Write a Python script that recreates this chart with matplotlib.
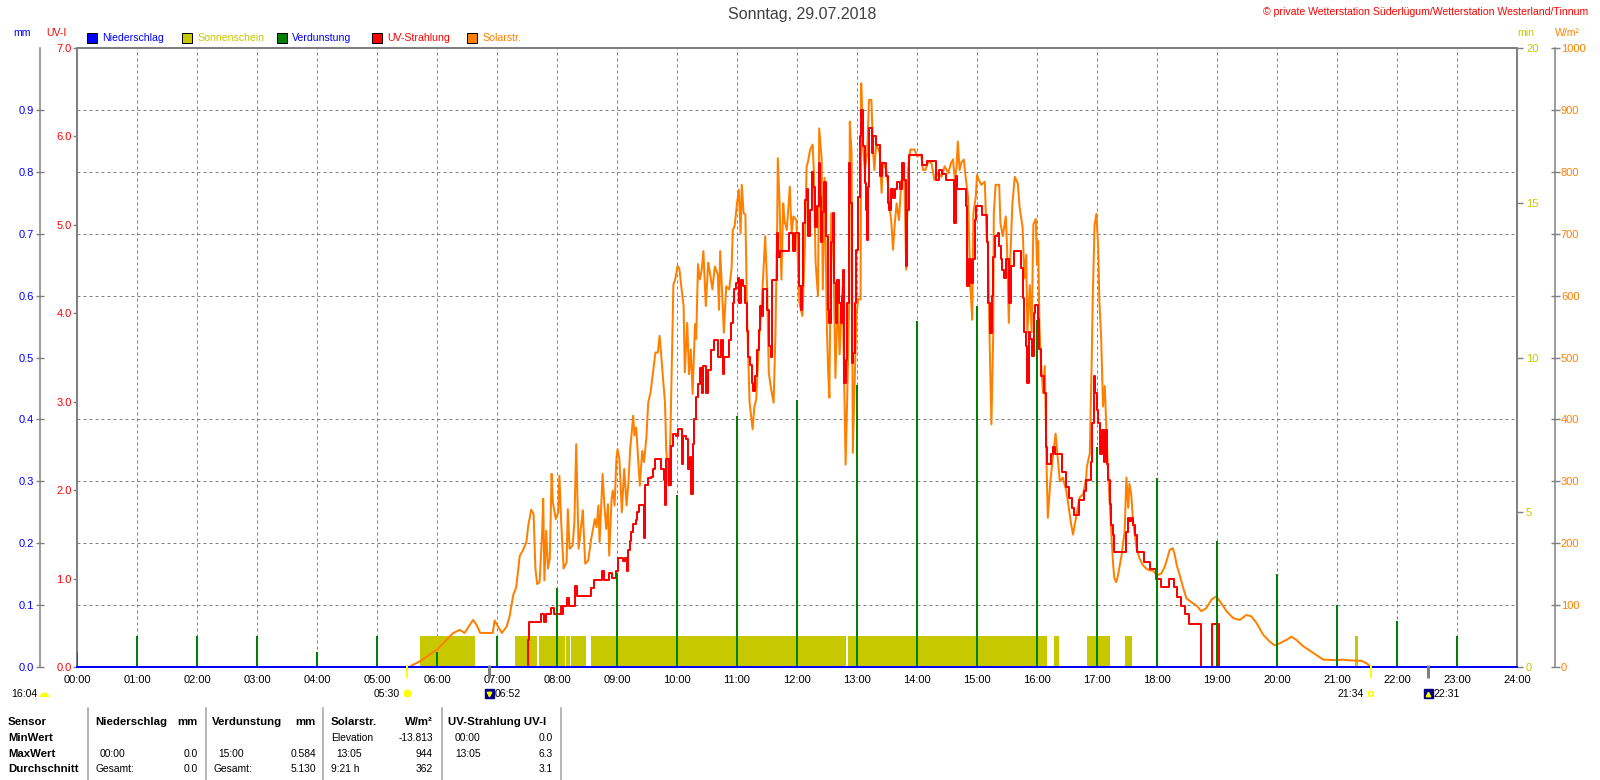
import numpy as np
import matplotlib
matplotlib.use("Agg")
import matplotlib.pyplot as plt
import matplotlib.patches as mpatches
from matplotlib.transforms import blended_transform_factory

plt.rcParams['font.family'] = ['Liberation Sans', 'DejaVu Sans']

# ---------------- data ----------------
hours = list(range(25))

# Verdunstung (mm) per hour
evap_h = list(range(24))
evap_mm = [0.025, 0.05, 0.05, 0.05, 0.025, 0.05, 0.025, 0.05, 0.127, 0.152,
           0.278, 0.405, 0.432, 0.456, 0.559, 0.584, 0.56, 0.355, 0.305, 0.203,
           0.15, 0.1, 0.074, 0.05]

# Niederschlag (mm), nothing fell
rain_t = [0, 24]
rain_mm = [0.0, 0.0]

# Sonnenschein: minutes of sunshine, periods of full sun (1 min per minute)
sun_start = ["05:43", "07:18", "07:42", "08:09", "08:14", "08:34", "12:51",
             "16:17", "16:50", "17:28", "21:18"]
sun_end = ["06:38", "07:40", "08:08", "08:13", "08:29", "12:49", "16:10",
           "16:22", "17:13", "17:35", "21:21"]
sun_min = [1] * len(sun_start)

# Solarstrahlung (W/m2)
sol_t = [5.55, 5.57, 5.71, 6.0, 6.27, 6.38, 6.46, 6.6, 6.66, 6.72, 6.93, 6.96,
         7.08, 7.16, 7.21, 7.27, 7.32, 7.38, 7.43, 7.49, 7.52, 7.57, 7.61, 7.64,
         7.67, 7.71, 7.75, 7.77, 7.79, 7.82, 7.85, 7.88, 7.91, 7.93, 7.98, 8.02,
         8.04, 8.07, 8.11, 8.16, 8.18, 8.21, 8.26, 8.29, 8.32, 8.36, 8.41, 8.43,
         8.47, 8.52, 8.57, 8.63, 8.66, 8.69, 8.71, 8.76, 8.79, 8.82, 8.85, 8.87,
         8.91, 8.93, 8.96, 8.99, 9.01, 9.04, 9.08, 9.12, 9.16, 9.19, 9.22, 9.24,
         9.27, 9.29, 9.32, 9.35, 9.38, 9.42, 9.45, 9.49, 9.52, 9.56, 9.60, 9.64,
         9.68, 9.71, 9.74, 9.77, 9.80, 9.82, 9.86, 9.89, 9.92, 9.94, 9.97, 10.01,
         10.04, 10.07, 10.11, 10.13, 10.17, 10.20, 10.23, 10.26, 10.30, 10.32,
         10.35, 10.38, 10.41, 10.44, 10.48, 10.52, 10.54, 10.59, 10.63, 10.68,
         10.7, 10.72, 10.76, 10.78, 10.82, 10.87, 10.91, 10.93, 10.96, 11.0,
         11.03, 11.06, 11.08, 11.11, 11.14, 11.17, 11.21, 11.26, 11.29, 11.32,
         11.37, 11.41, 11.43, 11.47, 11.5, 11.53, 11.57, 11.61, 11.64, 11.67,
         11.68, 11.71, 11.74, 11.77, 11.79, 11.83, 11.88, 11.91, 11.94, 11.99,
         12.04, 12.09, 12.13, 12.16, 12.18, 12.22, 12.26, 12.28, 12.31, 12.35,
         12.37, 12.41, 12.43, 12.46, 12.5, 12.52, 12.54, 12.57, 12.61, 12.64,
         12.68, 12.71, 12.76, 12.78, 12.81, 12.83, 12.87, 12.88, 12.91, 12.93,
         12.96, 12.99, 13.02, 13.06, 13.07, 13.1, 13.13, 13.17, 13.2, 13.24,
         13.27, 13.29, 13.32, 13.38, 13.41, 13.43, 13.49, 13.52, 13.54, 13.57,
         13.6, 13.63, 13.66, 13.7, 13.74, 13.79, 13.82, 13.85, 13.89, 13.96,
         14.0, 14.07, 14.1, 14.14, 14.18, 14.24, 14.29, 14.35, 14.41, 14.46,
         14.52, 14.57, 14.6, 14.63, 14.66, 14.68, 14.71, 14.74, 14.78, 14.81,
         14.85, 14.89, 14.92, 14.94, 14.98, 15.0, 15.03, 15.07, 15.13, 15.16,
         15.18, 15.21, 15.24, 15.27, 15.28, 15.31, 15.37, 15.39, 15.43, 15.48,
         15.5, 15.53, 15.56, 15.59, 15.63, 15.68, 15.71, 15.76, 15.79, 15.82,
         15.84, 15.88, 15.91, 15.94, 15.98, 16.0, 16.02, 16.04, 16.07, 16.1,
         16.13, 16.16, 16.18, 16.22, 16.27, 16.31, 16.38, 16.43, 16.49, 16.53,
         16.57, 16.6, 16.63, 16.68, 16.71, 16.77, 16.82, 16.83, 16.88, 16.91,
         16.93, 16.96, 16.99, 17.02, 17.04, 17.07, 17.1, 17.13, 17.16, 17.18,
         17.21, 17.24, 17.27, 17.29, 17.32, 17.35, 17.41, 17.46, 17.49, 17.52,
         17.54, 17.57, 17.6, 17.66, 17.71, 17.77, 17.82, 17.88, 17.93, 18.0,
         18.07, 18.13, 18.17, 18.21, 18.26, 18.29, 18.33, 18.38, 18.43, 18.49,
         18.57, 18.66, 18.74, 18.82, 18.91, 18.99, 19.07, 19.16, 19.27, 19.38,
         19.49, 19.57, 19.66, 19.77, 19.88, 19.96, 20.04, 20.16, 20.24, 20.32,
         20.43, 20.54, 20.66, 20.77, 20.99, 21.1, 21.16, 21.41, 21.49, 21.57]
sol_w = [0, 2, 9, 28, 55, 60, 55, 76, 68, 55, 55, 75,
         55, 65, 82, 116, 129, 180, 188, 202, 228, 254, 247, 159,
         134, 137, 212, 272, 140, 220, 159, 175, 312, 266, 239, 250,
         309, 234, 159, 169, 255, 191, 196, 234, 360, 191, 234, 253,
         167, 172, 207, 239, 226, 261, 202, 312, 261, 223, 263, 180,
         272, 285, 261, 336, 352, 336, 250, 320, 261, 298, 352, 374,
         406, 374, 387, 339, 293, 349, 331, 371, 427, 444, 476, 508,
         508, 535, 500, 462, 427, 352, 293, 374, 519, 618, 626, 648,
         643, 616, 583, 476, 556, 473, 513, 441, 554, 530,
         651, 626, 640, 672, 583, 653, 642, 610, 647, 634,
         577, 672, 588, 540, 615, 610, 645, 706, 712, 749,
         771, 701, 779, 733, 731, 556, 427, 384, 421, 432,
         534, 583, 620, 696, 620, 475, 448, 427, 534, 717,
         822, 749, 626, 749, 722, 706, 776, 701, 728, 722,
         588, 567, 674, 809, 815, 836, 844, 803, 653, 599,
         870, 822, 610, 790, 540, 475, 435, 733, 653, 467,
         599, 505, 615, 502, 327, 405, 588, 881, 830, 346,
         459, 567, 594, 594, 943, 841, 803, 830, 916, 916,
         830, 803, 846, 830, 766, 815, 803, 776, 744, 722,
         674, 717, 749, 722, 787, 787, 642, 803, 836, 836,
         825, 828, 803, 803, 815, 815, 787, 798, 792, 809,
         798, 815, 820, 787, 809, 849, 803, 815, 820, 792,
         760, 615, 561, 733, 760, 795, 787, 779, 784, 696,
         685, 529, 392, 534, 733, 779, 779, 717, 696, 728,
         680, 556, 674, 749, 792, 781, 743, 710, 628, 666,
         541, 617, 541, 715, 724, 650, 688, 552, 486, 443,
         486, 323, 241, 296, 345, 377, 300, 306, 284, 257,
         230, 214, 230, 257, 274, 279, 306, 323, 345, 486,
         601, 715, 732, 677, 590, 530, 421, 454, 377, 323,
         268, 214, 164, 143, 137, 148, 181, 219, 306, 257,
         296, 279, 236, 192, 175, 164, 159, 156, 156, 148,
         151, 162, 175, 189, 192, 184, 164, 148, 130, 111,
         105, 99, 90, 95, 109, 114, 103, 90, 79, 76,
         84, 82, 71, 52, 41, 35, 38, 44, 49, 44,
         34, 27, 19, 12, 11, 12, 11, 10, 6, 0]

# UV-Strahlung (UV-I), value holds until the next time
uv_t = [7.51, 7.52, 7.54, 7.74, 7.78, 7.81, 7.9, 7.95, 8.06, 8.08, 8.1, 8.17, 8.2,
        8.3, 8.34, 8.56, 8.62, 8.75, 8.79, 8.86, 8.92, 8.98, 9.02, 9.1, 9.13,
        9.16, 9.18, 9.21, 9.24, 9.27, 9.31, 9.34, 9.37, 9.45, 9.47, 9.51, 9.56,
        9.6, 9.63, 9.74, 9.78, 9.8, 9.82, 9.86, 9.9, 9.93, 9.99, 10.02, 10.08,
        10.1, 10.15, 10.18, 10.21, 10.24, 10.26, 10.29, 10.32, 10.35, 10.38,
        10.41, 10.44, 10.48, 10.51, 10.56, 10.61, 10.69, 10.73, 10.76, 10.78,
        10.87, 10.9, 10.93, 10.95, 10.98, 11.01, 11.03, 11.06, 11.1, 11.13,
        11.16, 11.18, 11.21, 11.25, 11.27, 11.3, 11.33, 11.36, 11.38, 11.41,
        11.43, 11.5, 11.53, 11.56, 11.59, 11.66, 11.69, 11.71, 11.86, 11.93,
        11.96, 12.03, 12.06, 12.08, 12.1, 12.13, 12.16, 12.19, 12.21, 12.25,
        12.27, 12.3, 12.33, 12.36, 12.38, 12.4, 12.42, 12.45, 12.48, 12.51,
        12.53, 12.56, 12.6, 12.62, 12.65, 12.67, 12.7, 12.73, 12.75, 12.77,
        12.79, 12.81, 12.84, 12.87, 12.89, 12.91, 12.93, 12.96, 12.99, 13.02,
        13.05, 13.07, 13.1, 13.13, 13.15, 13.16, 13.18, 13.2, 13.25, 13.27,
        13.31, 13.38, 13.41, 13.48, 13.51, 13.53, 13.56, 13.6, 13.63, 13.67,
        13.71, 13.75, 13.78, 13.81, 13.84, 13.87, 14.09, 14.17, 14.31, 14.37,
        14.42, 14.48, 14.62, 14.65, 14.67, 14.81, 14.84, 14.87, 14.9, 14.93,
        14.97, 14.99, 15.09, 15.16, 15.19, 15.22, 15.25, 15.27, 15.3, 15.35,
        15.37, 15.4, 15.42, 15.45, 15.48, 15.53, 15.56, 15.62, 15.73, 15.76,
        15.78, 15.81, 15.83, 15.86, 15.88, 15.91, 15.95, 15.97, 16.01, 16.03,
        16.06, 16.12, 16.15, 16.17, 16.24, 16.27, 16.3, 16.42, 16.49, 16.53,
        16.58, 16.62, 16.7, 16.78, 16.82, 16.9, 16.92, 16.95, 16.97, 17.0,
        17.02, 17.05, 17.08, 17.11, 17.13, 17.16, 17.19, 17.21, 17.23, 17.26,
        17.28, 17.48, 17.51, 17.53, 17.56, 17.6, 17.63, 17.67, 17.78, 17.88,
        17.99, 18.06, 18.2, 18.28, 18.34, 18.4, 18.46, 18.54, 18.74, 18.92,
        19.03]
uv_i = [0.0, 0.3, 0.51, 0.6, 0.51, 0.6, 0.67, 0.6, 0.69, 0.6, 0.69, 0.78, 0.69,
        0.92, 0.8, 0.89, 0.98, 1.08, 0.98, 1.06, 1.01, 1.08, 1.23, 1.2, 1.23,
        1.09, 1.32, 1.43, 1.53, 1.62, 1.66, 1.75, 1.83, 1.46, 2.06, 2.14, 2.15,
        2.24, 2.35, 2.24, 2.12, 1.83, 2.35, 2.06, 2.5, 2.64, 2.61, 2.69, 2.3,
        2.61, 2.58, 2.24, 2.38, 1.96, 2.52, 2.8, 3.05, 3.2, 3.38,
        3.1, 3.4, 3.1, 3.36, 3.59, 3.70, 3.51, 3.70, 3.31, 3.51,
        3.70, 3.89, 4.12, 4.27, 4.34, 4.40, 4.12, 4.38, 4.31, 4.12,
        3.80, 3.51, 3.42, 3.21, 3.12, 3.29, 3.59, 3.81, 4.08, 3.97,
        4.27, 4.04, 3.63, 3.51, 4.38, 4.91, 4.64, 4.70, 4.91, 4.70,
        4.91, 4.31, 4.04, 4.31, 5.02, 5.28, 5.40, 4.87, 5.17, 5.60,
        5.43, 4.98, 5.21, 5.70, 5.32, 4.81, 5.15, 5.49, 4.87, 4.04,
        3.89, 4.81, 5.13, 4.34, 3.89, 4.38, 4.12, 3.89, 4.19, 4.49,
        3.21, 3.47, 4.12, 5.70, 5.25, 3.44, 3.55, 4.12, 4.72, 5.32,
        6.0, 6.30, 5.89, 5.47, 5.17, 4.83, 5.43, 6.09, 5.81, 6.0,
        5.9, 5.55, 5.70, 5.55, 5.25, 5.17, 5.40, 5.30, 5.40, 5.49,
        5.40, 5.70, 5.51, 4.53, 5.17, 5.79, 5.68, 5.72, 5.51, 5.62,
        5.58, 5.51, 5.02, 5.55, 5.40, 5.21, 4.31, 4.61, 4.34, 4.61,
        5.06, 5.21, 5.11, 4.81, 4.12, 3.78, 4.19, 4.64, 4.87, 4.91,
        4.76, 4.61, 4.49, 4.40, 4.61, 4.12, 4.53, 4.70, 4.51, 4.17,
        3.79, 3.63, 3.21, 3.79, 3.71, 3.52, 4.0, 4.09, 3.94, 3.6,
        3.29, 3.10, 2.49, 2.30, 2.41, 2.49, 2.41, 2.2, 2.03, 1.91,
        1.80, 1.72, 1.89, 1.99, 2.11, 2.32, 2.76, 3.29, 3.10, 2.91,
        2.76, 2.41, 2.68, 2.32, 2.68, 2.30, 2.11, 1.84, 1.61, 1.49,
        1.30, 1.53, 1.69, 1.65, 1.69, 1.61, 1.49, 1.30, 1.19, 1.11,
        1.0, 0.9, 1.0, 0.9, 0.79, 0.69, 0.6, 0.49, 0.0, 0.49,
        0.0]

# sun / moon times shown under the time axis
sunrise, sunset = "05:30", "21:34"
moon_down, moon_up = "06:52", "22:31"
day_length = "16:04"

# summary table
tab_header = ["Sensor", "Niederschlag", "mm", "Verdunstung", "mm", "Solarstr.", "W/m²", "UV-Strahlung UV-I"]
tab_min = ["MinWert", "", "", "", "", "Elevation", "-13.813", "00:00", "0.0"]
tab_max = ["MaxWert", "00:00", "0.0", "15:00", "0.584", "13:05", "944", "13:05", "6.3"]
tab_avg = ["Durchschnitt", "Gesamt:", "0.0", "Gesamt:", "5.130", "9:21 h", "362", "", "3.1"]

legend_names = ["Niederschlag", "Sonnenschein", "Verdunstung", "UV-Strahlung", "Solarstr."]


def hm(s):
    h, m = s.split(":")
    return int(h) + int(m) / 60


BLUE, OLIVE, GREEN, RED, ORANGE = "#0000ff", "#c8c800", "#008000", "#ff0000", "#ff8000"
GRAY = "#808080"
legend_box = [BLUE, OLIVE, GREEN, RED, ORANGE]
legend_txt = [BLUE, OLIVE, BLUE, RED, ORANGE]

W, H = 1600, 780
PT = 0.72  # points per pixel at 100 dpi
fig = plt.figure(figsize=(16, 7.8), dpi=100)
fig.patch.set_facecolor("white")

ax = fig.add_axes([77 / W, 1 - 667 / H, 1440 / W, 619 / H])   # sunshine (min)
ax_sol = ax.twinx()
ax_uv = ax.twinx()
ax_mm = ax.twinx()
ax.set_zorder(1)
ax_sol.set_zorder(2)
ax_uv.set_zorder(3)
ax_mm.set_zorder(4)

for a in (ax, ax_sol, ax_uv, ax_mm):
    for s in a.spines.values():
        s.set_visible(False)

# frame
for side in ("top", "left", "right", "bottom"):
    ax.spines[side].set_visible(True)
    ax.spines[side].set_color(GRAY)
    ax.spines[side].set_linewidth(2 * PT)

ax.set_xlim(0, 24)
ax.set_ylim(0, 20)
ax.set_xticks(hours)
ax.set_xticklabels([f"{h:02d}:00" for h in hours])
ax.tick_params(axis="x", length=0, pad=6, labelsize=8, colors="black")
ax.yaxis.tick_right()
ax.set_yticks([0, 5, 10, 15, 20])
ax.set_yticks(np.arange(0, 21, 2), minor=True)
ax.tick_params(axis="y", which="major", direction="out", length=6 * PT, width=1.4 * PT,
               color=GRAY, labelcolor=OLIVE, labelsize=8, pad=3 * PT)
ax.tick_params(axis="y", which="minor", length=0)
ax.set_axisbelow(True)
ax.grid(axis="x", which="major", color=GRAY, lw=PT, ls=(0, (3, 3)))
ax.grid(axis="y", which="minor", color=GRAY, lw=PT, ls=(0, (3, 3)))

# sunshine
for s0, s1, v in zip(sun_start, sun_end, sun_min):
    ax.bar(hm(s0), v, width=hm(s1) - hm(s0), align="edge", color=OLIVE, lw=0, zorder=2)

# solar radiation
ax_sol.set_ylim(0, 1000)
ax_sol.set_yticks(range(0, 1001, 100))
ax_sol.spines["right"].set_visible(True)
ax_sol.spines["right"].set_position(("outward", 38 * PT))
ax_sol.spines["right"].set_color(GRAY)
ax_sol.spines["right"].set_linewidth(1.5 * PT)
ax_sol.tick_params(axis="y", direction="inout", length=9 * PT, width=1.4 * PT,
                   color=GRAY, labelcolor=ORANGE, labelsize=8, pad=1)
ax_sol.plot(sol_t, sol_w, color=ORANGE, lw=2 * PT)

# UV index
ax_uv.set_ylim(0, 7)
ax_uv.yaxis.tick_left()
ax_uv.set_yticks(range(8))
ax_uv.set_yticklabels([f"{v:.1f}" for v in range(8)])
ax_uv.tick_params(axis="y", direction="out", length=4 * PT, width=1.4 * PT,
                  color=GRAY, labelcolor=RED, labelsize=8, pad=1)
ax_uv.plot(uv_t, uv_i, color=RED, lw=2 * PT, drawstyle="steps-post")

# evaporation and precipitation (mm)
ax_mm.set_ylim(0, 1.0)
ax_mm.yaxis.tick_left()
ax_mm.set_yticks(np.arange(0, 10) / 10)
ax_mm.set_yticklabels([f"{v / 10:.1f}" for v in range(10)])
ax_mm.spines["left"].set_visible(True)
ax_mm.spines["left"].set_position(("outward", 37 * PT))
ax_mm.spines["left"].set_color(GRAY)
ax_mm.spines["left"].set_linewidth(1.5 * PT)
ax_mm.tick_params(axis="y", direction="inout", length=8 * PT, width=1.4 * PT,
                  color=GRAY, labelcolor=BLUE, labelsize=8, pad=1.5)
ax_mm.bar(evap_h, evap_mm, width=0.045, color=GREEN, lw=0)
ax_mm.plot(rain_t, rain_mm, color=BLUE, lw=2 * PT, clip_on=False, zorder=5)

# overlay in pixel coordinates for all the texts around the plot
ov = fig.add_axes([0, 0, 1, 1])
ov.set_xlim(0, W)
ov.set_ylim(H, 0)
ov.axis("off")
ov.set_zorder(10)
bt = blended_transform_factory(ax.transData, ov.transData)

ov.text(802, 15, "Sonntag, 29.07.2018", ha="center", va="center", fontsize=11.5, color="#404040")
ov.text(1588, 12, "© private Wetterstation Süderlügum/Wetterstation Westerland/Tinnum",
        ha="right", va="center", fontsize=7.6, color=RED)
ov.text(22, 33, "mm", ha="center", va="center", fontsize=7.6, color=BLUE)
ov.text(56, 33, "UV-I", ha="center", va="center", fontsize=7.6, color=RED)
ov.text(1526, 33, "min", ha="center", va="center", fontsize=7.6, color=OLIVE)
ov.text(1567, 33, "W/m²", ha="center", va="center", fontsize=7.6, color=ORANGE)

for i, name in enumerate(legend_names):
    x0 = 87 + 95 * i
    ov.add_patch(mpatches.Rectangle((x0, 33), 10, 10, facecolor=legend_box[i],
                                    edgecolor="black", lw=PT))
    ov.text(x0 + 15, 38, name, ha="left", va="center", fontsize=7.6, color=legend_txt[i])

# sun and moon markers under the axis
for t, col, lw in [(sunrise, "#ffff00", 2), (sunset, "#ffff00", 2),
                   (moon_down, GRAY, 3), (moon_up, GRAY, 3)]:
    ov.plot([hm(t), hm(t)], [665, 678], color=col, lw=lw * PT, transform=bt,
            solid_capstyle="butt")

tk = dict(fontsize=7.6, va="center", color="black")
ov.annotate(sunrise, xy=(hm(sunrise), 694), xycoords=bt, xytext=(-7 * PT, 0),
            textcoords="offset points", ha="right", **tk)
ov.plot([hm(sunrise)], [693], transform=bt, marker=(8, 2, 0), ms=9 * PT,
        color="#ffff90", mew=1)
ov.plot([hm(sunrise)], [693], transform=bt, marker="o", ms=6 * PT,
        color="#ffff00", mec="#ffff00")
ov.annotate(sunset, xy=(hm(sunset), 694), xycoords=bt, xytext=(-7 * PT, 0),
            textcoords="offset points", ha="right", **tk)
ov.plot([hm(sunset)], [694], transform=bt, marker="s", ms=5 * PT,
        mfc="white", mec="#ffff00", mew=1.2)
for t, arrow in [(moon_down, "v"), (moon_up, "^")]:
    ov.plot([hm(t)], [693], transform=bt, marker="s", ms=9 * PT,
            color="#000080")
    ov.plot([hm(t)], [694], transform=bt, marker=arrow, ms=4.5 * PT,
            color="#ffff00")
    ov.annotate(t, xy=(hm(t), 694), xycoords=bt, xytext=(6 * PT, 0),
                textcoords="offset points", ha="left", **tk)
ov.text(37, 694, day_length, ha="right", **tk)
ov.add_patch(mpatches.Wedge((44.5, 697), 4.5, 180, 360, color="#ffff00", lw=0))

# summary table
for x in (88, 205.5, 323, 441.5, 561):
    ov.plot([x, x], [708, 780], color="#a0a0a0", lw=1.5 * PT)

hx = [8, 95, 198, 212, 316, 331, 433, 448]
ha_h = ["left", "left", "right", "left", "right", "left", "right", "left"]
for x, s, a in zip(hx, tab_header, ha_h):
    ov.text(x, 722, s, ha=a, va="center", fontsize=8.2, fontweight="bold")

cx = [8, 100, 198, 218, 316, 336, 433, 455, 553]
ha_c = ["left", "left", "right", "left", "right", "left", "right", "left", "right"]
for row, y in [(tab_min, 738), (tab_max, 754), (tab_avg, 769.5)]:
    for j, (x, s, a) in enumerate(zip(cx, row, ha_c)):
        if j == 0:
            ov.text(x, y, s, ha=a, va="center", fontsize=8.2, fontweight="bold")
        else:
            # 'Gesamt:' / 'Elevation' / '9:21 h' start at the column edge
            if s in ("Gesamt:", "Elevation", "9:21 h"):
                x = x - 5
            ov.text(x, y, s, ha=a, va="center", fontsize=7.4)

fig.savefig("out.png", dpi=100, facecolor="white")
